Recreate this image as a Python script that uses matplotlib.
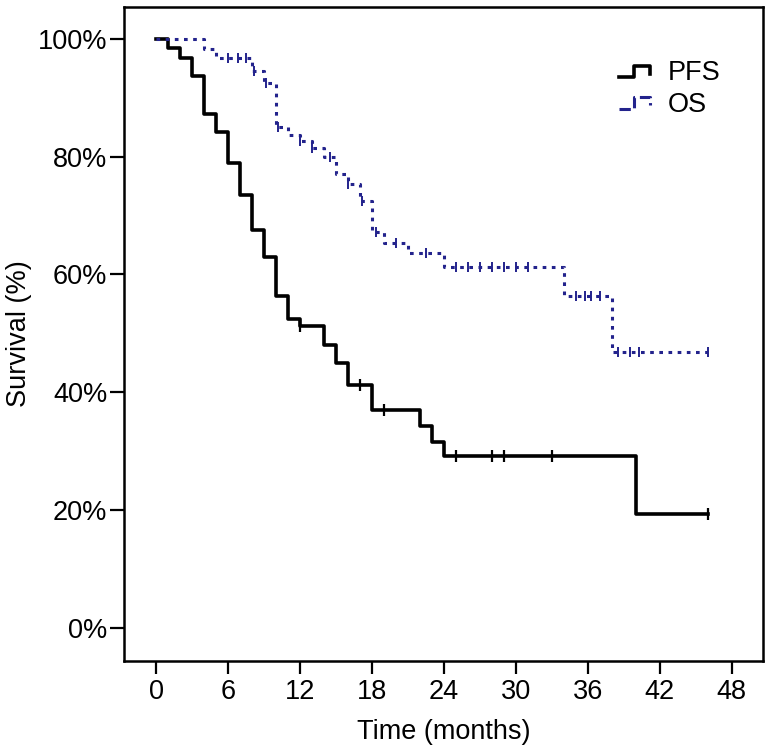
import numpy as np
import matplotlib
matplotlib.use("Agg")
import matplotlib.pyplot as plt
from matplotlib.legend_handler import HandlerLine2D
from matplotlib.lines import Line2D

plt.rcParams['font.family'] = ['Liberation Sans', 'DejaVu Sans']

# PFS: event times (months) and survival after each step (%)
pfs_times = [0, 1, 2, 3, 4, 5, 6, 7, 8, 9, 10, 11, 12, 14, 15, 16, 18, 22, 23, 24, 40]
pfs_surv = [100, 98.4, 96.8, 93.6, 87.2, 84.1, 78.9, 73.5, 67.6, 62.9, 56.4, 52.4, 51.2,
            48.0, 44.9, 41.3, 37.0, 34.3, 31.6, 29.2, 19.4]
pfs_end = 46
pfs_censor = [12, 17, 19, 25, 28, 29, 33, 46]

# OS
os_times = [0, 4, 5, 8, 9, 10, 11, 12, 13, 14, 15, 16, 17, 18, 19, 21, 24, 34, 38]
os_surv = [100, 98.3, 96.8, 94.5, 92.5, 85.0, 83.7, 82.7, 81.5, 80.0, 77.1, 75.4, 72.4,
           67.2, 65.4, 63.6, 61.3, 56.3, 46.9]
os_end = 46
os_censor = [6, 6.8, 7.5, 8.2, 9.2, 10.2, 12, 13, 14.5, 16, 17.2, 18.3, 20, 22.5,
             25, 26, 27, 28, 29, 30, 31, 35, 35.8, 36.3, 37, 38.5, 39.5, 40.3, 46]

pfs_color = 'black'
os_color = '#23238c'
fs = 19.5


def km_step(times, surv, end):
    x = list(times) + [end]
    y = list(surv) + [surv[-1]]
    return x, y


def surv_at(t, times, surv):
    idx = np.searchsorted(times, t, side='right') - 1
    return surv[idx]


class StepHandler(HandlerLine2D):
    def create_artists(self, legend, orig_handle, xdescent, ydescent,
                       width, height, fontsize, trans):
        w = width
        h = height
        xs = np.array([0, 0.45, 0.45, 0.95, 0.95]) * w - xdescent
        ys = np.array([0.15, 0.15, 0.75, 0.75, 0.35]) * h - ydescent
        ln = Line2D(xs, ys, color=orig_handle.get_color(),
                    linestyle=orig_handle.get_linestyle(),
                    linewidth=orig_handle.get_linewidth())
        ln.set_transform(trans)
        return [ln]


fig = plt.figure(figsize=(7.68, 7.51), dpi=100)
ax = fig.add_axes([0.1615, 0.1198, 0.832, 0.871])

x, y = km_step(pfs_times, pfs_surv, pfs_end)
h1, = ax.step(x, y, where='post', color=pfs_color, lw=2.6, label='PFS')
cy = [surv_at(t, pfs_times, pfs_surv) for t in pfs_censor]
ax.plot(pfs_censor, cy, linestyle='none', marker='|', markersize=9,
        markeredgewidth=1.6, color=pfs_color)

x, y = km_step(os_times, os_surv, os_end)
h2, = ax.step(x, y, where='post', color=os_color, lw=2.2,
              linestyle=(0, (1.2, 1.8)), label='OS')
cy = [surv_at(t, os_times, os_surv) for t in os_censor]
ax.plot(os_censor, cy, linestyle='none', marker='|', markersize=7,
        markeredgewidth=1.4, color=os_color)

ax.set_xlim(-2.67, 50.6)
ax.set_ylim(-5.6, 105.4)
ax.set_xticks(np.arange(0, 49, 6))
ax.set_yticks(np.arange(0, 101, 20))
ax.set_yticklabels([f'{v}%' for v in range(0, 101, 20)])
ax.tick_params(labelsize=fs, width=1.6, length=9, color='black')
ax.tick_params(axis='y', length=10, pad=2)
ax.tick_params(axis='x', pad=4)
for s in ax.spines.values():
    s.set_linewidth(1.8)

ax.set_xlabel('Time (months)', fontsize=fs, labelpad=10)
ax.set_ylabel('Survival (%)', fontsize=fs, labelpad=4)

ax.legend(handles=[h1, h2], loc='upper right', frameon=False, fontsize=fs,
          handler_map={Line2D: StepHandler()}, handlelength=1.2,
          bbox_to_anchor=(0.951, 0.935), borderaxespad=0, labelspacing=0.2,
          handletextpad=0.6)

fig.savefig('out.png', dpi=100)
